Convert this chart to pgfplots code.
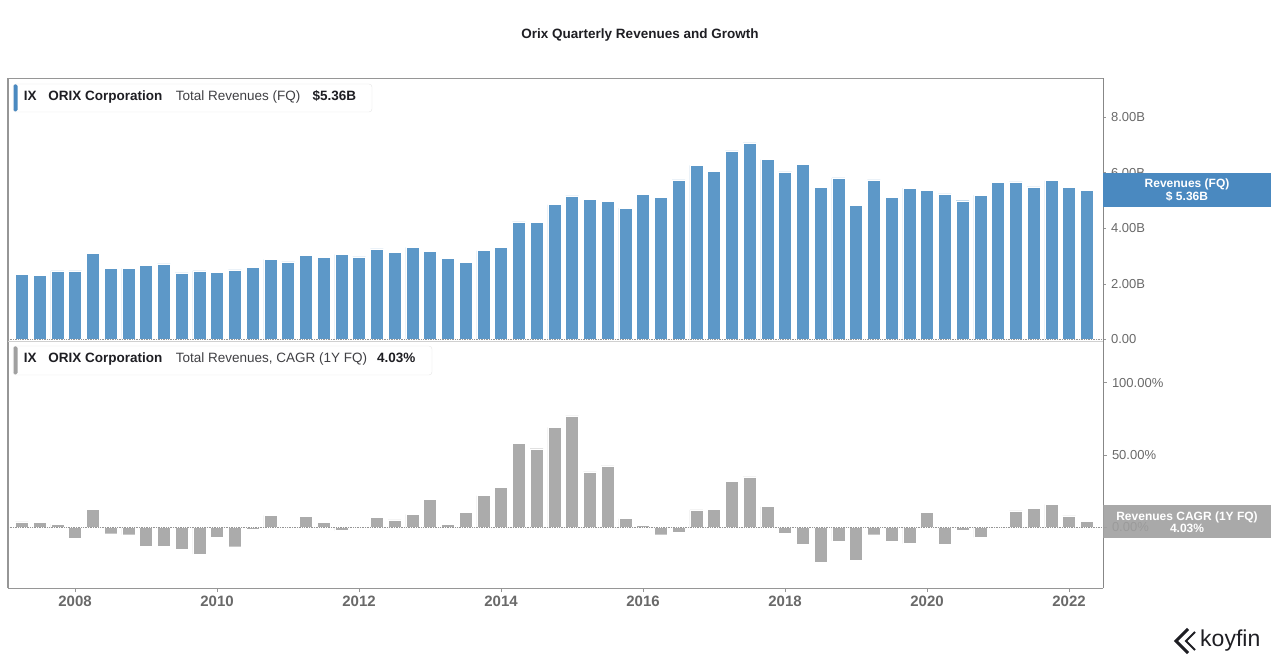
\documentclass[border=0pt]{standalone}
\usepackage{pgfplots}
\pgfplotsset{compat=1.18}
\usepackage{fontspec}
\setmainfont{Liberation Sans}

\definecolor{barblue}{RGB}{93,152,200}
\definecolor{tagblue}{RGB}{74,137,192}
\definecolor{bargray}{RGB}{171,171,171}
\definecolor{taggray}{RGB}{160,160,160}
\definecolor{tickgray}{RGB}{105,105,105}
\definecolor{framegray}{RGB}{150,150,150}
\definecolor{boxgray}{RGB}{228,228,228}
\definecolor{txtdark}{RGB}{30,30,35}

\pgfplotsset{
  koy/.style={
    scale only axis, width=1095pt,
    xmin=2007.056, xmax=2022.479,
    axis line style={draw=none},
    ybar, bar width=13pt,
    ytick pos=right, yticklabel pos=right,
    xtick pos=left,
    tick align=outside, major tick length=3pt,
    tick style={draw=framegray, line width=0.6pt},
    yticklabel style={font=\fontsize{13}{15}\selectfont, text=tickgray, xshift=1.5pt},
  }
}

\begin{document}
% quarterly revenues, billions USD
\pgfplotstableread{
x rev
2007.25 2.33
2007.50 2.30
2007.75 2.47
2008.00 2.47
2008.25 3.09
2008.50 2.57
2008.75 2.56
2009.00 2.67
2009.25 2.72
2009.50 2.40
2009.75 2.47
2010.00 2.42
2010.25 2.50
2010.50 2.59
2010.75 2.88
2011.00 2.79
2011.25 3.03
2011.50 2.95
2011.75 3.06
2012.00 2.97
2012.25 3.26
2012.50 3.13
2012.75 3.31
2013.00 3.16
2013.25 2.91
2013.50 2.78
2013.75 3.20
2014.00 3.32
2014.25 4.23
2014.50 4.20
2014.75 4.85
2015.00 5.16
2015.25 5.03
2015.50 4.96
2015.75 4.72
2016.00 5.22
2016.25 5.10
2016.50 5.74
2016.75 6.26
2017.00 6.04
2017.25 6.78
2017.50 7.07
2017.75 6.47
2018.00 6.03
2018.25 6.29
2018.50 5.47
2018.75 5.81
2019.00 4.82
2019.25 5.74
2019.50 5.10
2019.75 5.44
2020.00 5.37
2020.25 5.24
2020.50 4.99
2020.75 5.19
2021.00 5.64
2021.25 5.67
2021.50 5.49
2021.75 5.71
2022.00 5.46
2022.25 5.36
}\revtab
% 1Y CAGR of revenues, percent
\pgfplotstableread{
x cagr
2007.25 3.7
2007.50 3.5
2007.75 2.3
2008.00 -7.6
2008.25 12.2
2008.50 -4.4
2008.75 -5.1
2009.00 -12.9
2009.25 -12.9
2009.50 -15.2
2009.75 -18.5
2010.00 -6.9
2010.25 -13.4
2010.50 -1.2
2010.75 8.3
2011.00 0.2
2011.25 7.4
2011.50 3.5
2011.75 -2.3
2012.00 0.7
2012.25 6.7
2012.50 5.1
2012.75 9.0
2013.00 19.4
2013.25 2.1
2013.50 10.2
2013.75 21.9
2014.00 27.5
2014.25 58.2
2014.50 54.3
2014.75 69.1
2015.00 76.9
2015.25 38.3
2015.50 42.5
2015.75 6.0
2016.00 1.4
2016.25 -5.1
2016.50 -3.2
2016.75 12.0
2017.00 12.2
2017.25 31.6
2017.50 34.9
2017.75 14.3
2018.00 -4.2
2018.25 -11.5
2018.50 -24.2
2018.75 -9.5
2019.00 -22.4
2019.25 -5.1
2019.50 -9.5
2019.75 -11.2
2020.00 10.3
2020.25 -11.6
2020.50 -2.1
2020.75 -7.0
2021.25 11.4
2021.50 13.2
2021.75 15.8
2022.00 7.9
2022.25 4.03
}\cagrtab

\begin{tikzpicture}[x=1pt,y=1pt]
\path[use as bounding box] (0,0) rectangle (1280,662);

\node[font=\bfseries\fontsize{13.5}{16}\selectfont, text=txtdark, anchor=base] at (640,623) {Orix Quarterly Revenues and Growth};

% top panel: revenues
\begin{axis}[koy, at={(8pt,321pt)}, anchor=south west, height=263pt,
  ymin=-0.054, ymax=9.403,
  ytick={0,2,4,6,8}, yticklabels={0.00,2.00B,4.00B,6.00B,8.00B},
  xtick=\empty]
\addplot[fill=barblue, draw=white, line width=0.4pt] table[x=x,y=rev] {\revtab};
\draw[densely dotted, framegray, line width=0.7pt] ({rel axis cs:0,0}|-{axis cs:2010,0}) -- ({rel axis cs:1,0}|-{axis cs:2010,0});
\end{axis}

% bottom panel: CAGR
\begin{axis}[koy, at={(8pt,74pt)}, anchor=south west, height=247pt,
  ymin=-41.9, ymax=128.7,
  ytick={0,50,100}, yticklabels={0.00\%,50.00\%,100.00\%},
  xtick={2008,2010,2012,2014,2016,2018,2020,2022},
  xticklabels={2008,2010,2012,2014,2016,2018,2020,2022},
  major tick length=4pt,
  xticklabel style={font=\bfseries\fontsize{15}{17}\selectfont, text=tickgray}]
\addplot[fill=bargray, draw=white, line width=0.4pt] table[x=x,y=cagr] {\cagrtab};
\draw[densely dotted, framegray, line width=0.7pt] ({rel axis cs:0,0}|-{axis cs:2010,0}) -- ({rel axis cs:1,0}|-{axis cs:2010,0});
\end{axis}

% frame
\draw[framegray, line width=0.8pt] (8,584) -- (1103,584);
\draw[framegray, line width=0.8pt] (8,74) -- (1103,74);
\draw[framegray, line width=1.4pt] (8,74) -- (8,584);
\draw[framegray!90!black, line width=0.9pt] (1103,74) -- (1103,584);
\draw[boxgray!80!gray, line width=0.5pt] (8,321) -- (1103,321);

% series labels
\draw[boxgray, fill=white, rounded corners=3pt] (13,550) rectangle (372,578);
\fill[tagblue, rounded corners=1.5pt] (13.5,550.5) rectangle (17.5,577.5);
\begin{scope}[every node/.style={anchor=base west, inner sep=0pt, text=txtdark}]
\node[font=\bfseries\fontsize{13.5}{16}\selectfont] at (23.6,561) {IX};
\node[font=\bfseries\fontsize{13.5}{16}\selectfont] at (48.2,561) {ORIX Corporation};
\node[font=\fontsize{13.5}{16}\selectfont, text=txtdark!85] at (175.7,561) {Total Revenues (FQ)};
\node[font=\bfseries\fontsize{13.5}{16}\selectfont] at (312.5,561) {\$5.36B};
\end{scope}

\draw[boxgray, fill=white, rounded corners=3pt] (13,287) rectangle (432,316);
\fill[taggray, rounded corners=1.5pt] (13.5,287.5) rectangle (17.5,315.5);
\begin{scope}[every node/.style={anchor=base west, inner sep=0pt, text=txtdark}]
\node[font=\bfseries\fontsize{13.5}{16}\selectfont] at (23.6,299) {IX};
\node[font=\bfseries\fontsize{13.5}{16}\selectfont] at (48.2,299) {ORIX Corporation};
\node[font=\fontsize{13.5}{16}\selectfont, text=txtdark!85] at (175.7,299) {Total Revenues, CAGR (1Y FQ)};
\node[font=\bfseries\fontsize{13.5}{16}\selectfont] at (376.8,299) {4.03\%};
\end{scope}

% value tags
\fill[tagblue] (1103,455) rectangle (1271,489);
\node[font=\bfseries\fontsize{12}{14}\selectfont, text=white, anchor=base] at (1187,474) {Revenues (FQ)};
\node[font=\bfseries\fontsize{12}{14}\selectfont, text=white, anchor=base] at (1187,461.5) {\$ 5.36B};

\fill[taggray, fill opacity=0.9] (1103,124) rectangle (1271,157.5);
\node[font=\bfseries\fontsize{12}{14}\selectfont, text=white, anchor=base] at (1187,142) {Revenues CAGR (1Y FQ)};
\node[font=\bfseries\fontsize{12}{14}\selectfont, text=white, anchor=base] at (1187,130) {4.03\%};

% koyfin logo
\draw[txtdark, line width=3pt, line join=miter] (1188,33) -- (1176,21) -- (1188,9);
\draw[txtdark, line width=2pt, line join=miter] (1195,30) -- (1186,21) -- (1195,12);
\node[font=\fontsize{23}{26}\selectfont, text=txtdark, anchor=base west, inner sep=0pt] at (1200,16) {koyfin};
\end{tikzpicture}
\end{document}
